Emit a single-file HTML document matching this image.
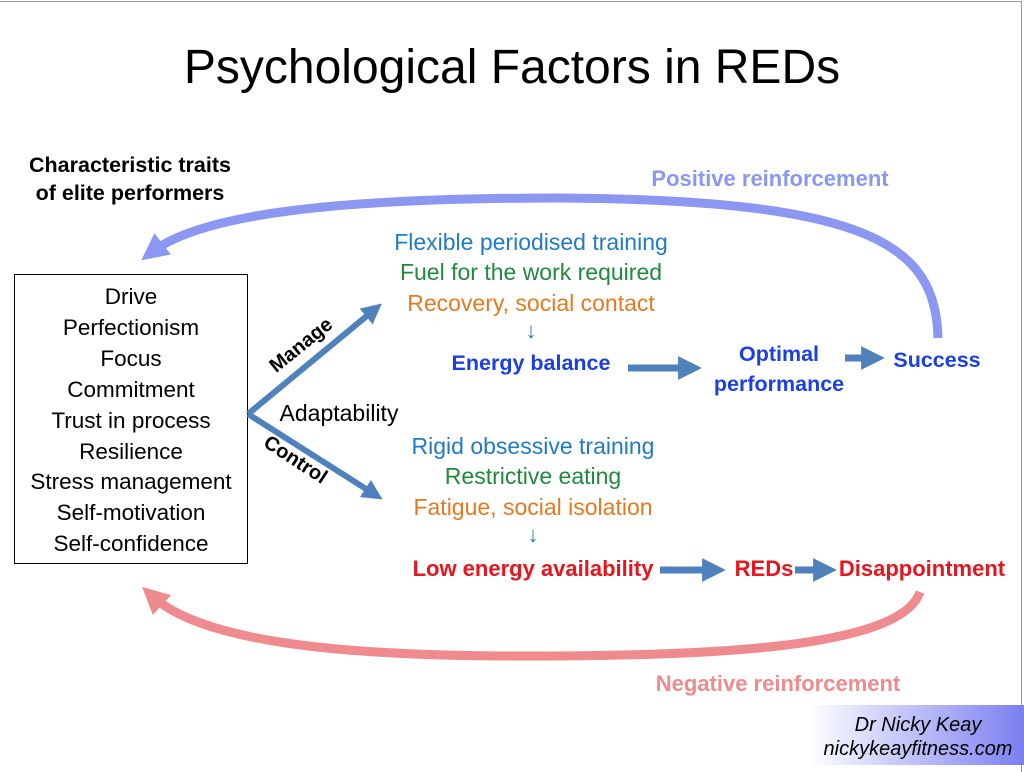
<!DOCTYPE html>
<html><head><meta charset="utf-8"><style>
body{margin:0;width:1024px;height:765px;background:#fff;overflow:hidden;position:relative;font-family:"Liberation Sans",sans-serif}
.t{position:absolute;white-space:nowrap;transform:translateX(-50%)}
.b{font-weight:bold}
</style></head><body>
<div style="position:absolute;left:0;top:1px;width:1021px;height:770px;border-top:1px solid #999;border-right:1px solid #999"></div>
<div class="t" style="left:512px;top:40px;font-size:48px">Psychological Factors in REDs</div>
<div class="t b" style="left:130px;top:151px;font-size:21.5px;text-align:center;line-height:28px">Characteristic traits<br>of elite performers</div>
<div style="position:absolute;left:14px;top:274px;width:232px;height:288px;border:1px solid #000"></div>
<div class="t" style="left:131px;top:282px;font-size:22.5px;text-align:center;line-height:30.9px">Drive<br>Perfectionism<br>Focus<br>Commitment<br>Trust in process<br>Resilience<br>Stress management<br>Self-motivation<br>Self-confidence</div>
<svg width="1024" height="765" style="position:absolute;left:0;top:0">
<defs>
<marker id="a" markerWidth="3.4" markerHeight="3.4" refX="1.7" refY="1.7" orient="auto" markerUnits="strokeWidth"><path d="M0,0L3.4,1.7L0,3.4z" fill="#4f81bd"/></marker>
<marker id="pb" markerWidth="3" markerHeight="3" refX="1.5" refY="1.5" orient="auto" markerUnits="strokeWidth"><path d="M0,0L3,1.5L0,3z" fill="#8b97f0"/></marker>
<marker id="pr" markerWidth="3" markerHeight="3" refX="1.5" refY="1.5" orient="auto" markerUnits="strokeWidth"><path d="M0,0L3,1.5L0,3z" fill="#ef8a8e"/></marker>
</defs>
<path d="M938,338 C936,245 870,200 560,198 C330,198 200,215 152,252" stroke="#8b97f0" stroke-width="9" fill="none" marker-end="url(#pb)"/>
<path d="M920,592 C900,650 700,656 520,656 C330,656 200,640 152,596" stroke="#ef8a8e" stroke-width="9" fill="none" marker-end="url(#pr)"/>
<path d="M248,414 L374,310" stroke="#4f81bd" stroke-width="6" fill="none" marker-end="url(#a)"/>
<path d="M248,414 L374,494" stroke="#4f81bd" stroke-width="6" fill="none" marker-end="url(#a)"/>
<path d="M628,368 L690,368" stroke="#4f81bd" stroke-width="7" fill="none" marker-end="url(#a)"/>
<path d="M845,358 L873,358" stroke="#4f81bd" stroke-width="7" fill="none" marker-end="url(#a)"/>
<path d="M660,570 L714,570" stroke="#4f81bd" stroke-width="7" fill="none" marker-end="url(#a)"/>
<path d="M795,570 L825,570" stroke="#4f81bd" stroke-width="7" fill="none" marker-end="url(#a)"/>
<text x="305" y="350" font-size="20" font-weight="bold" font-family="Liberation Sans" transform="rotate(-39 305 350)" text-anchor="middle">Manage</text>
<text x="292" y="465" font-size="20" font-weight="bold" font-family="Liberation Sans" transform="rotate(33 292 465)" text-anchor="middle">Control</text>
</svg>
<div class="t" style="left:339px;top:400px;font-size:23px">Adaptability</div>
<div class="t b" style="left:770px;top:166px;font-size:22px;color:#8b97f0">Positive reinforcement</div>
<div class="t b" style="left:778px;top:671px;font-size:22px;color:#ef8a8e">Negative reinforcement</div>
<div class="t" style="left:531px;top:229px;font-size:23px;color:#1f7bc4">Flexible periodised training</div>
<div class="t" style="left:531px;top:259px;font-size:23px;color:#1f8a3c">Fuel for the work required</div>
<div class="t" style="left:531px;top:290px;font-size:23px;color:#e8781e">Recovery, social contact</div>
<div class="t" style="left:531px;top:318px;font-size:22px;color:#1f7bc4">↓</div>
<div class="t b" style="left:531px;top:351px;font-size:21.5px;color:#1a3ee8">Energy balance</div>
<div class="t b" style="left:779px;top:339px;font-size:21.5px;color:#1a3ee8;text-align:center;line-height:30px">Optimal<br>performance</div>
<div class="t b" style="left:937px;top:348px;font-size:21.5px;color:#1a3ee8">Success</div>
<div class="t" style="left:533px;top:433px;font-size:23px;color:#1f7bc4">Rigid obsessive training</div>
<div class="t" style="left:533px;top:463px;font-size:23px;color:#1f8a3c">Restrictive eating</div>
<div class="t" style="left:533px;top:494px;font-size:23px;color:#e8781e">Fatigue, social isolation</div>
<div class="t" style="left:533px;top:522px;font-size:22px;color:#1f7bc4">↓</div>
<div class="t b" style="left:533px;top:556px;font-size:22px;color:#e8141e">Low energy availability</div>
<div class="t b" style="left:764px;top:556px;font-size:22px;color:#e8141e">REDs</div>
<div class="t b" style="left:922px;top:556px;font-size:22px;color:#e8141e">Disappointment</div>
<div style="position:absolute;left:808px;top:705px;width:216px;height:60px;background:linear-gradient(90deg,#fff,#7b7ff0)"></div>
<div class="t" style="left:918px;top:713px;font-size:20px;font-style:italic;text-align:center;line-height:24px">Dr Nicky Keay<br>nickykeayfitness.com</div>
</body></html>
